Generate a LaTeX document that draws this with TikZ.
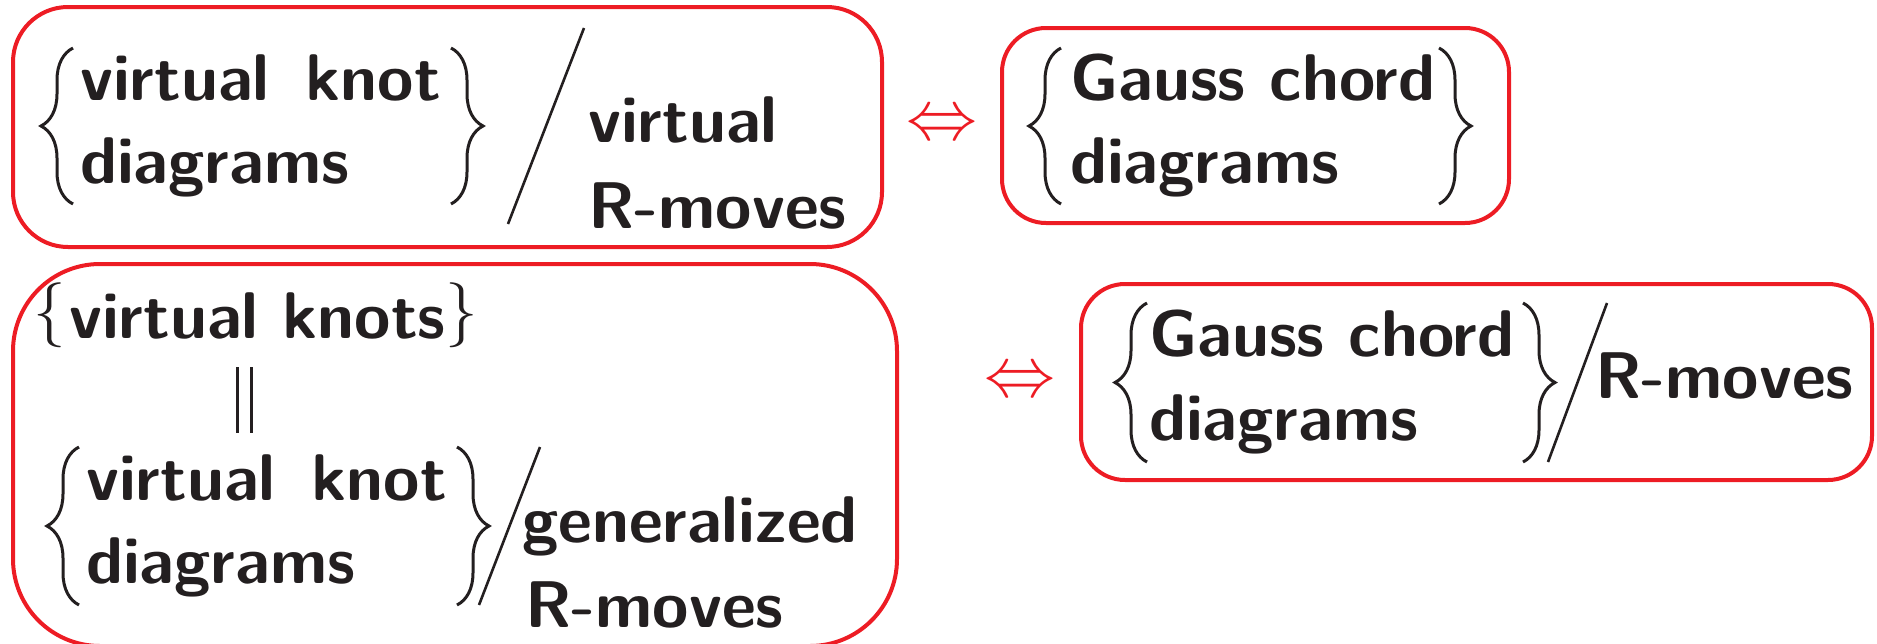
\documentclass[tikz,border=0pt]{standalone}
\usepackage{fontspec}
\usepackage{graphicx}
\usetikzlibrary{decorations.pathreplacing}
\definecolor{boxred}{HTML}{ED1C24}
\definecolor{ink}{HTML}{231F20}
\tikzset{
  frame/.style={draw=boxred, line width=4pt},
  txt/.style={anchor=base west, inner sep=0pt, outer sep=0pt, text=ink,
    font=\sffamily\bfseries\fontsize{66}{83}\selectfont},
  bigbrace/.style={draw=ink, line width=3pt, decorate,
    decoration={brace, amplitude=32pt}},
  slashline/.style={draw=ink, line width=2.6pt},
  glyph/.style={inner sep=0pt, outer sep=0pt, anchor=center},
}
\newcommand{\wgap}{\hspace*{36pt}}
\begin{document}
\begin{tikzpicture}[x=1pt,y=-1pt]
\useasboundingbox (0,0) rectangle (1877,643);
% frames
\draw[frame, rounded corners=55pt] (13,7) rectangle (882,247);
\draw[frame, rounded corners=44pt] (1002,28) rectangle (1509,223);
\draw[frame, rounded corners=87pt] (13,264) rectangle (897,646);
\draw[frame, rounded corners=44pt] (1081,284) rectangle (1872,480);

% box 1
\draw[bigbrace] (73,204) -- (73,48);
\draw[bigbrace] (451,48) -- (451,204);
\node[txt] (t1a) at (80,100) {virtual\wgap knot};
\node[txt] (t1b) at (80,183) {diagrams};
\coordinate (s1a) at (508,224);
\coordinate (s1b) at (584,28);
\draw[slashline] (s1a) -- (s1b);
\node[txt] (t1c) at (588,142) {virtual};
\node[txt] (t1d) at (588,228) {R-moves};

% arrow 1
\node[glyph, text=boxred] (arr1) at (942,126) {\scalebox{7.1}{$\Leftrightarrow$}};

% box 2
\draw[bigbrace] (1061,204) -- (1061,48);
\draw[bigbrace] (1439,48) -- (1439,204);
\node[txt] (t2a) at (1070,100) {Gauss chord};
\node[txt] (t2b) at (1070,183) {diagrams};

% box 3
\node[glyph, text=ink] (lb3) at (50,315.5) {\scalebox{6.5}{$\{$}};
\node[txt] (t3a) at (69,338) {virtual knots};
\coordinate (k3) at (t3a.base east);
\node[glyph, anchor=west, text=ink] (rb3) at (k3 |- lb3) {\scalebox{6.5}{$\}$}};
\coordinate (e1a) at (237,367);
\coordinate (e1b) at (237,433);
\coordinate (e2a) at (251,367);
\coordinate (e2b) at (251,433);
\draw[draw=ink, line width=3pt] (e1a) -- (e1b);
\draw[draw=ink, line width=3pt] (e2a) -- (e2b);
\draw[bigbrace] (79,605) -- (79,447);
\draw[bigbrace] (457,447) -- (457,605);
\node[txt] (t3b) at (86,500) {virtual\wgap knot};
\node[txt] (t3c) at (86,583) {diagrams};
\coordinate (s3a) at (479,605);
\coordinate (s3b) at (540,447);
\draw[slashline] (s3a) -- (s3b);
\node[txt] (t3d) at (522,542) {generalized};
\node[txt] (t3e) at (525,627) {R-moves};

% arrow 2
\node[glyph, text=boxred] (arr2) at (1020,383) {\scalebox{7.1}{$\Leftrightarrow$}};

% box 4
\draw[bigbrace] (1147,462) -- (1147,303);
\draw[bigbrace] (1523,303) -- (1523,462);
\node[txt] (t4a) at (1149,356) {Gauss chord};
\node[txt] (t4b) at (1149,440) {diagrams};
\coordinate (s4a) at (1548,462);
\coordinate (s4b) at (1607,303);
\draw[slashline] (s4a) -- (s4b);
\node[txt] (t4c) at (1595,398) {R-moves};
\end{tikzpicture}
\end{document}
